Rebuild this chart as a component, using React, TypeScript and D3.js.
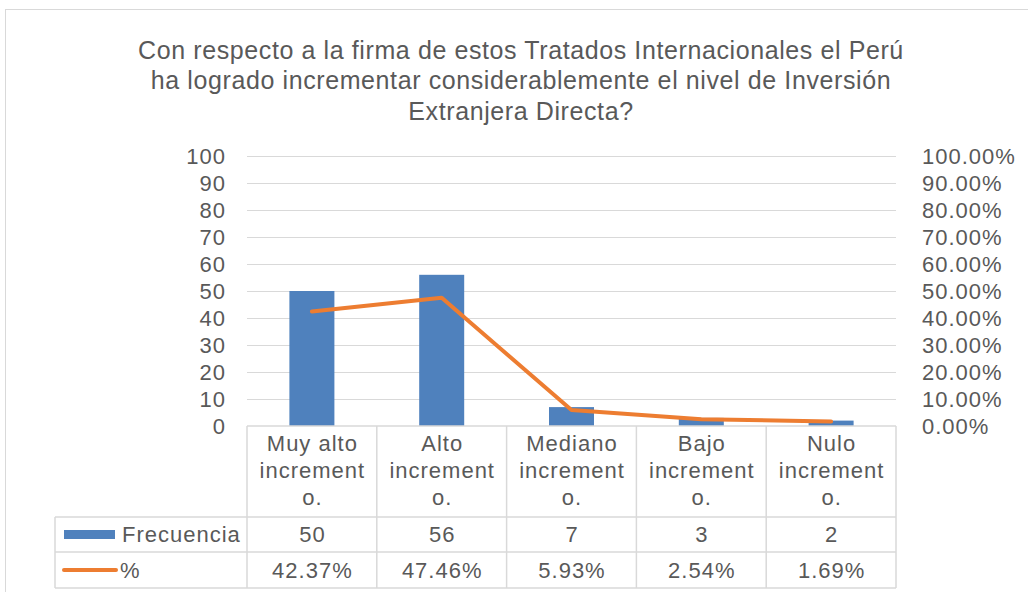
import React from "react";
import * as d3 from "d3";

const titleLines = [
  "Con respecto a la firma de estos Tratados Internacionales el Perú",
  "ha logrado incrementar considerablemente el nivel de Inversión",
  "Extranjera Directa?",
];
const categoryLines: string[][] = [
  ["Muy alto", "increment", "o."],
  ["Alto", "increment", "o."],
  ["Mediano", "increment", "o."],
  ["Bajo", "increment", "o."],
  ["Nulo", "increment", "o."],
];
const frecuencia = [50, 56, 7, 3, 2];
const porcentaje = [42.37, 47.46, 5.93, 2.54, 1.69];
const leftTicks = [0, 10, 20, 30, 40, 50, 60, 70, 80, 90, 100];
const rightTicks = [0, 10, 20, 30, 40, 50, 60, 70, 80, 90, 100];
const seriesNames = ["Frecuencia", "%"];

const W = 1028;
const H = 592;
const FONT = "'Liberation Sans', Arial, sans-serif";
const TEXT = "#595959";
const GRID = "#D9D9D9";
const BLUE = "#4F81BD";
const ORANGE = "#ED7D31";

export default function App() {
  const plotL = 247, plotR = 896, plotT = 156, plotB = 426;
  const x = d3.scaleBand<number>().domain(d3.range(frecuencia.length)).range([plotL, plotR]).paddingInner(0).paddingOuter(0);
  const yL = d3.scaleLinear().domain([0, 100]).range([plotB, plotT]);
  const yR = d3.scaleLinear().domain([0, 100]).range([plotB, plotT]);
  const bw = 45;
  const line = d3.line<number>().x((_, i) => x(i)! + x.bandwidth() / 2).y((d) => yR(d));
  const tableRows = [426, 517, 552, 588];
  const legendL = 55;
  const fs = 22;
  const ls = 1;

  return (
    <svg width={W} height={H} style={{ position: "absolute", left: 0, top: 0, background: "#fff" }} fontFamily={FONT}>
      <rect x={5.5} y={9.5} width={1040} height={600} fill="#fff" stroke="#D9D9D9" strokeWidth={1} />
      {titleLines.map((t, i) => (
        <text key={i} x={521} y={58.5 + i * 30.5} textAnchor="middle" fontSize={25} letterSpacing={0.6} fill={TEXT}>{t}</text>
      ))}
      {leftTicks.map((t) => (
        <g key={"g" + t}>
          {t > 0 && <line x1={plotL} x2={plotR} y1={yL(t) + 0.5} y2={yL(t) + 0.5} stroke={GRID} strokeWidth={1} />}
          <text x={226} y={yL(t) + 8} textAnchor="end" fontSize={fs} letterSpacing={ls} fill={TEXT}>{t}</text>
        </g>
      ))}
      {rightTicks.map((t) => (
        <text key={"r" + t} x={922} y={yR(t) + 8} textAnchor="start" fontSize={fs} letterSpacing={ls} fill={TEXT}>{t.toFixed(2) + "%"}</text>
      ))}
      {frecuencia.map((v, i) => (
        <rect key={"b" + i} x={x(i)! + x.bandwidth() / 2 - bw / 2} y={yL(v)} width={bw} height={plotB - yL(v)} fill={BLUE} />
      ))}
      <path d={line(porcentaje) ?? ""} fill="none" stroke={ORANGE} strokeWidth={4} strokeLinecap="round" strokeLinejoin="round" />
      <g stroke={GRID} strokeWidth={1.5} fill="none">
        {d3.range(frecuencia.length + 1).map((i) => {
          const xx = i < frecuencia.length ? x(i)! : plotR;
          return <line key={"v" + i} x1={xx} x2={xx} y1={tableRows[0]} y2={tableRows[3]} />;
        })}
        <line x1={legendL} x2={legendL} y1={tableRows[1]} y2={tableRows[3]} />
        <line x1={plotL} x2={plotR} y1={tableRows[0]} y2={tableRows[0]} />
        {[1, 2, 3].map((r) => (
          <line key={"h" + r} x1={legendL} x2={plotR} y1={tableRows[r]} y2={tableRows[r]} />
        ))}
      </g>
      {categoryLines.map((lines, i) =>
        lines.map((l, j) => (
          <text key={"c" + i + j} x={x(i)! + x.bandwidth() / 2 + 0.5} y={451 + j * 27} textAnchor="middle" fontSize={fs} letterSpacing={ls} fill={TEXT}>{l}</text>
        ))
      )}
      {frecuencia.map((v, i) => (
        <text key={"f" + i} x={x(i)! + x.bandwidth() / 2 + 0.5} y={542} textAnchor="middle" fontSize={fs} letterSpacing={ls} fill={TEXT}>{v}</text>
      ))}
      {porcentaje.map((v, i) => (
        <text key={"p" + i} x={x(i)! + x.bandwidth() / 2 + 0.5} y={578} textAnchor="middle" fontSize={fs} letterSpacing={ls} fill={TEXT}>{v.toFixed(2) + "%"}</text>
      ))}
      <rect x={64} y={530} width={51} height={9} fill={BLUE} />
      <text x={122} y={542} fontSize={fs} letterSpacing={ls} fill={TEXT}>{seriesNames[0]}</text>
      <line x1={64} x2={116} y1={570} y2={570} stroke={ORANGE} strokeWidth={4} strokeLinecap="round" />
      <text x={120} y={578} fontSize={fs} letterSpacing={ls} fill={TEXT}>{seriesNames[1]}</text>
    </svg>
  );
}
